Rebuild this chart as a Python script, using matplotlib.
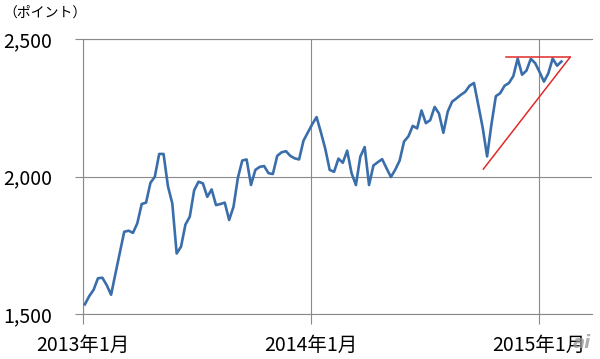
import numpy as np
import pandas as pd
import matplotlib
matplotlib.use("Agg")
from matplotlib import pyplot as plt
import matplotlib.dates as mdates
from matplotlib.ticker import FuncFormatter

plt.rcParams['font.family'] = ['Noto Sans CJK JP', 'DejaVu Sans']

# weekly index values, Jan 2013 - Feb 2015
start_date = "2013-01-04"
values = [
    1535, 1565, 1588, 1630, 1632, 1605, 1570, 1647, 1723, 1799,
    1803, 1795, 1830, 1900, 1905, 1977, 1999, 2082, 2082, 1965,
    1902, 1720, 1745, 1825, 1854, 1950, 1981, 1975, 1926, 1953,
    1896, 1900, 1905, 1842, 1890, 1995, 2058, 2062, 1969, 2024,
    2035, 2038, 2012, 2009, 2075, 2088, 2092, 2075, 2066, 2062,
    2130, 2160, 2190, 2216, 2160, 2100, 2024, 2017, 2065, 2050,
    2094, 2012, 1969, 2072, 2107, 1969, 2040, 2052, 2063, 2030,
    1998, 2025, 2058, 2127, 2146, 2184, 2175, 2240, 2194, 2205,
    2253, 2229, 2159, 2236, 2272, 2284, 2297, 2308, 2330, 2340,
    2259, 2177, 2073, 2190, 2292, 2303, 2330, 2340, 2365, 2429,
    2370, 2385, 2428, 2412, 2380, 2345, 2375, 2429, 2403, 2418,
]
dates = pd.date_range(start_date, periods=len(values), freq="7D")

# red triangle drawn on the chart
resist_dates = ["2014-11-09", "2015-02-20"]
resist_vals = [2434, 2434]
support_dates = ["2014-10-04", "2015-02-20"]
support_vals = [2027, 2434]

xtick_dates = ["2013-01-01", "2014-01-01", "2015-01-01"]
xtick_labels = ["2013年1月", "2014年1月", "2015年1月"]
yticks = [1500, 2000, 2500]

grid_c = "#8a8a8a"

fig = plt.figure(figsize=(6.0, 3.59), dpi=100)
ax = fig.add_axes([0.1383, 0.1253, 0.8484, 0.7661])

ax.plot(dates, values, color="#3a6eaa", lw=1.9, solid_joinstyle="round", zorder=3)
ax.plot(pd.to_datetime(resist_dates), resist_vals, color="#e02a2a", lw=1.1, zorder=4)
ax.plot(pd.to_datetime(support_dates), support_vals, color="#e02a2a", lw=1.1, zorder=4)

ax.set_ylim(1500, 2500)
ax.set_xlim(pd.Timestamp("2013-01-01"), pd.Timestamp("2015-03-27"))
ax.set_yticks(yticks)
ax.yaxis.set_major_formatter(FuncFormatter(lambda v, p: f"{int(v):,}"))
ax.set_xticks(pd.to_datetime(xtick_dates))
ax.set_xticklabels(xtick_labels)

ax.grid(True, color=grid_c, lw=0.8)
for s in ["left", "top", "bottom"]:
    ax.spines[s].set_color(grid_c)
    ax.spines[s].set_linewidth(0.8)
ax.spines["right"].set_visible(False)
ax.tick_params(axis="y", length=6, color=grid_c, width=0.8, labelsize=14, pad=16)
ax.tick_params(axis="x", length=7, color=grid_c, width=0.8, labelsize=14, pad=8)

fig.text(0.005, 0.985, "（ポイント）", fontsize=10, va="top", ha="left")
fig.text(0.955, 0.03, "ai", fontsize=13, color="#9a9a9a", style="italic",
         fontweight="bold", family="DejaVu Sans", alpha=0.8)

fig.savefig("out.png", dpi=100)
